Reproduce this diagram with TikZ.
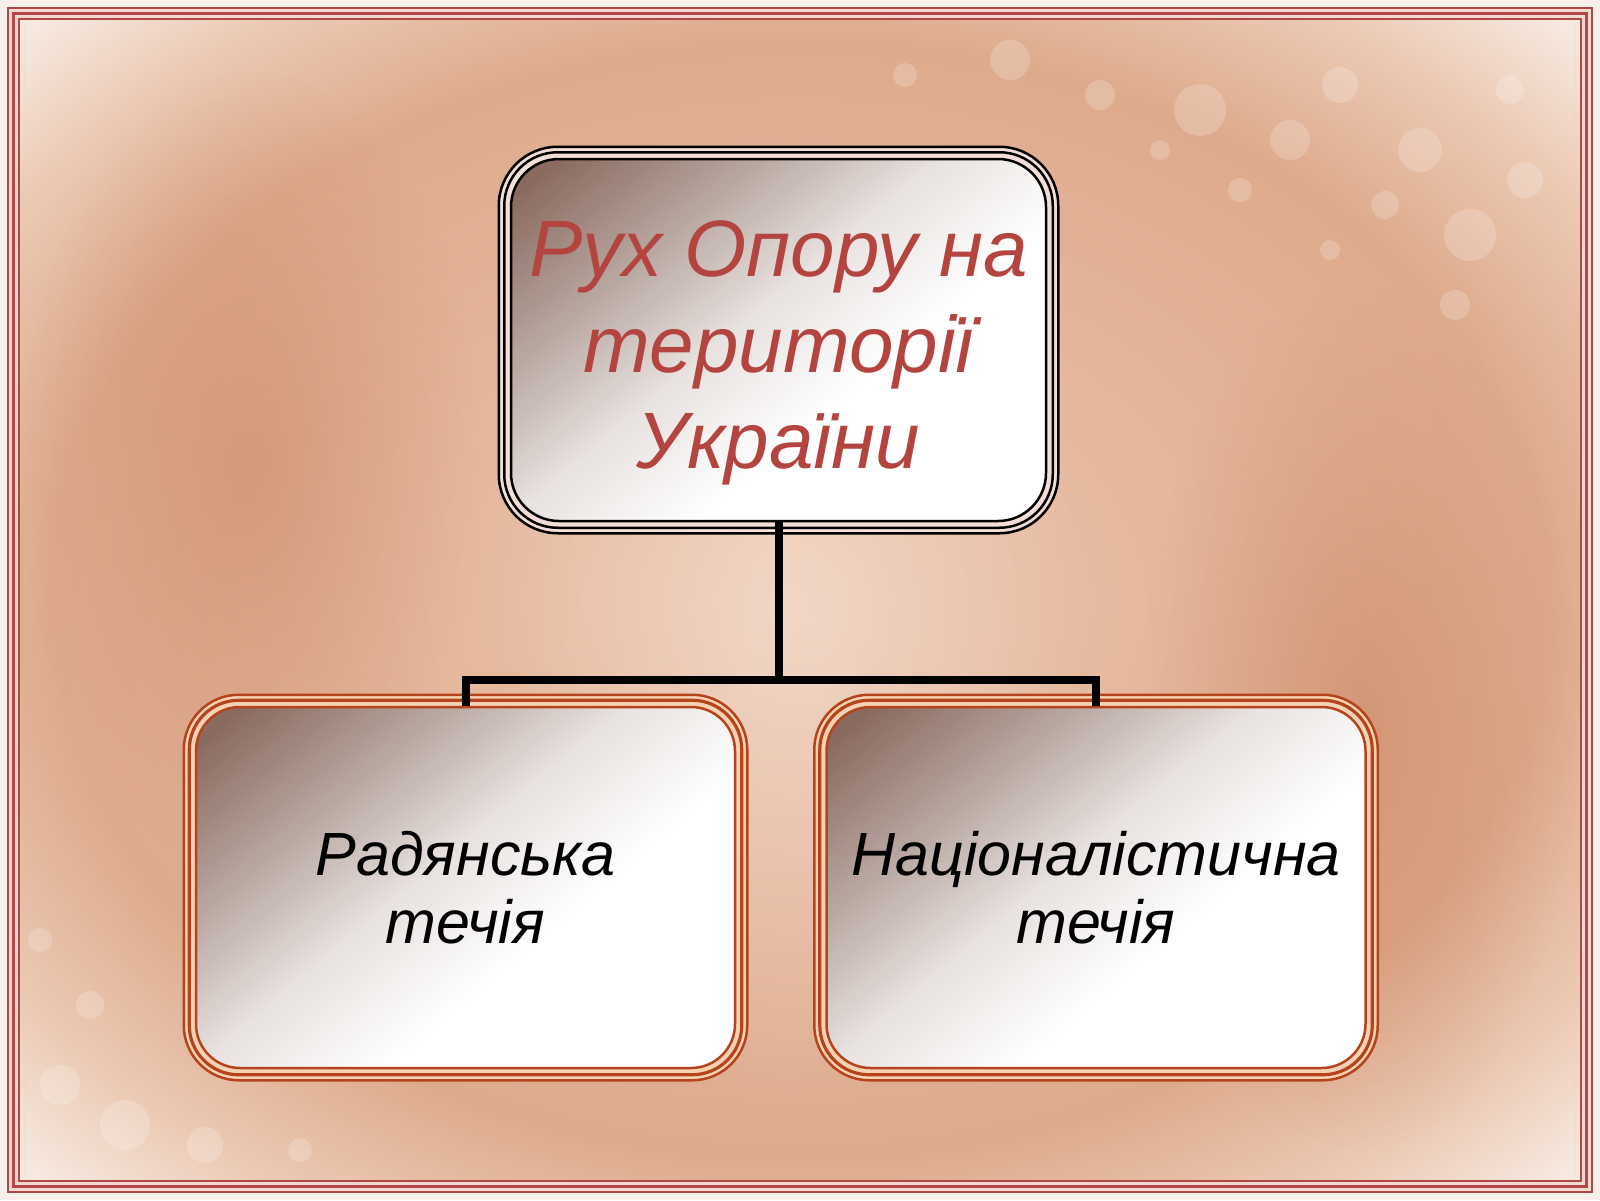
\documentclass[tikz,border=0pt]{standalone}
\usepackage{fontspec}
\setmainfont{Liberation Sans}
\usetikzlibrary{calc,fadings}
\tikzfading[name=softblob, inner color=transparent!0, outer color=transparent!100]
\definecolor{framered}{HTML}{B04848}
\definecolor{framegap}{HTML}{F3D8D0}
\definecolor{pageedge}{HTML}{F8EFEA}
\definecolor{bgca}{HTML}{EBC6AE}
\definecolor{bgcb}{HTML}{E4B59A}
\definecolor{bgcc}{HTML}{DEAA8C}
\definecolor{bgcd}{HTML}{EBC9B3}
\definecolor{bgce}{HTML}{F8EAE2}
\definecolor{blobc}{HTML}{C47E5A}
\definecolor{shdark}{HTML}{8A6A5E}
\definecolor{shmid}{HTML}{B9A8A2}
\definecolor{shlight}{HTML}{E8E2E0}
\definecolor{topgap}{HTML}{F2DED6}
\definecolor{orangeline}{HTML}{B5441C}
\definecolor{orangegap}{HTML}{F6D2B4}
\definecolor{titlered}{HTML}{B3443F}
\pgfdeclareverticalshading{boxshade}{100bp}{color(0bp)=(white); color(40bp)=(white); color(54bp)=(shlight); color(67bp)=(shmid); color(82bp)=(shdark); color(100bp)=(shdark)}
\pgfdeclareradialshading{slidebg}{\pgfpoint{0bp}{0bp}}{color(0bp)=(bgca); color(14bp)=(bgcb); color(24bp)=(bgcc); color(30bp)=(bgcd); color(35bp)=(bgce); color(50bp)=(bgce)}
\pgfdeclarelayer{bg}
\pgfdeclarelayer{frames}
\pgfsetlayers{bg,frames,main}
\newcommand{\drawboxframe}[6]{% node, line colour, gap colour, r outer, r mid, width
  \draw[#2, line width=1.25pt, fill=#3, rounded corners=#4] ([shift={(-5.5pt,5.5pt)}]#1.north west) rectangle ([shift={(5.5pt,-5.5pt)}]#1.south east);
  \draw[#2, line width=#6, rounded corners=#5] ([shift={(-2.75pt,2.75pt)}]#1.north west) rectangle ([shift={(2.75pt,-2.75pt)}]#1.south east);
}
\begin{document}
\begin{tikzpicture}[x=0.5pt,y=-0.5pt,
  topbox/.style={draw=black, line width=1.25pt, rounded corners=24pt,
    shading=boxshade, shading angle=40, inner sep=0pt,
    minimum width=267.5pt, minimum height=181pt, align=center,
    text=titlered, font=\fontsize{40pt}{48pt}\selectfont\itshape},
  subbox/.style={draw=orangeline, line width=1.25pt, rounded corners=22pt,
    shading=boxshade, shading angle=40, inner sep=0pt,
    minimum width=269.5pt, minimum height=180.5pt, align=center,
    text=black, font=\fontsize{30.5pt}{34pt}\selectfont\itshape},
  conn/.style={draw=black, line width=4pt},
  bokeh/.style={fill=white, opacity=0.2}]
\useasboundingbox (0,0) rectangle (1600,1200);
\begin{pgfonlayer}{bg}
  \fill[pageedge] (0,0) rectangle (1600,1200);
  \fill[framegap] (8,8) rectangle (1592,1192);
  \shade[shading=slidebg] (19,19) rectangle (1581,1181);
  \fill[blobc, opacity=0.45, path fading=softblob] (250,470) ellipse[x radius=230, y radius=400];
  \fill[blobc, opacity=0.5, path fading=softblob] (1360,720) ellipse[x radius=220, y radius=430];
  \fill[white, opacity=0.3, path fading=softblob] (790,620) ellipse[x radius=300, y radius=500];
  \foreach \cx/\cy/\r in {1200/110/26, 1290/140/20, 1340/85/18, 1420/150/22, 1470/235/26,
     1455/305/15, 1100/95/15, 1010/60/20, 905/75/12, 1385/205/14, 1525/180/18,
     1240/190/12, 1160/150/10, 1510/90/14, 1330/250/10,
     60/1085/20, 125/1125/25, 205/1145/18, 90/1005/14, 300/1150/12, 40/940/12}
     \fill[bokeh] (\cx,\cy) circle[radius=\r];
  \draw[framered, line width=1.25pt] (8,8) rectangle (1592,1192);
  \draw[framered, line width=1.75pt] (13.5,13.5) rectangle (1586.5,1186.5);
  \draw[framered, line width=1pt] (19,19) rectangle (1581,1181);
\end{pgfonlayer}

\node[topbox] (top) at (778.5,340) {\rule{0pt}{41pt}Рух Опору на\\території\\України};
\node[subbox] (left) at (465.5,887.5) {Радянська\\течія};
\node[subbox] (right) at (1096,887.5) {Націоналістична\\течія};

\begin{pgfonlayer}{frames}
  \drawboxframe{top}{black}{topgap}{29.5pt}{26.75pt}{1.25pt}
  \drawboxframe{left}{orangeline}{orangegap}{27.5pt}{24.75pt}{1.6pt}
  \drawboxframe{right}{orangeline}{orangegap}{27.5pt}{24.75pt}{1.6pt}
\end{pgfonlayer}

\coordinate (bar) at (0,680);
\draw[conn] (top.south) -- (top.south |- bar);
\draw[conn] (left.north) -- (left.north |- bar) -- (right.north |- bar) -- (right.north);
\end{tikzpicture}
\end{document}
